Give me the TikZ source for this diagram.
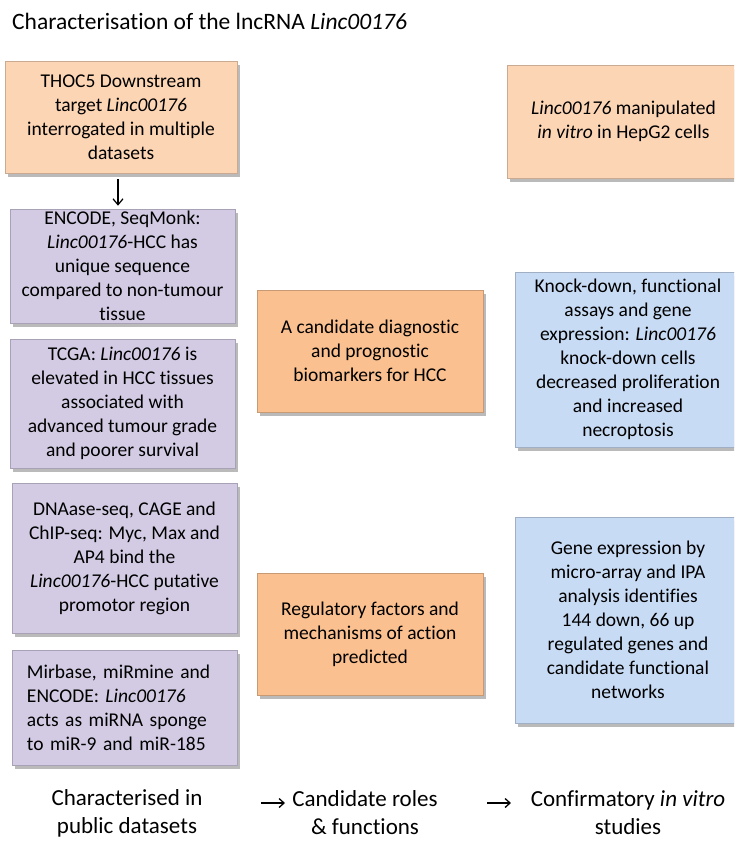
\documentclass[tikz,border=0pt]{standalone}
\usepackage{fontspec}
\setmainfont[Ligatures=NoCommon]{Carlito}
\usetikzlibrary{shadows,arrows.meta}
\definecolor{orlight}{HTML}{FCD5B5}
\definecolor{ormid}{HTML}{FAC090}
\definecolor{purp}{HTML}{D3CBE3}
\definecolor{blu}{HTML}{C8DBF4}
\tikzset{
  box/.style={draw=#1!80!black, line width=0.6pt, fill=#1, align=center,
    inner sep=0pt, font=\fontsize{19.5}{24}\selectfont,
    drop shadow={shadow xshift=2.5pt, shadow yshift=-3.5pt, opacity=0.45, fill=black!60}},
  boxA/.style={box=orlight},
  boxM/.style={box=ormid},
  boxP/.style={box=purp},
  boxB/.style={box=blu},
  foot/.style={align=center, font=\fontsize{23}{28}\selectfont, inner sep=0pt},
  arr/.style={-{Straight Barb[length=6pt,width=10pt]}, line width=1.2pt},
  farr/.style={-{Straight Barb[length=5pt,width=9pt]}, line width=1.3pt},
}
\begin{document}
\begin{tikzpicture}[x=1pt,y=-1pt]
\useasboundingbox (0,0) rectangle (734,841);
\clip (0,0) rectangle (734,841);
\fill[white] (0,0) rectangle (734,841);

\node[anchor=base west, font=\fontsize{23.5}{28}\selectfont, inner sep=0pt] (title) at (12,29)
  {Characterisation of the lncRNA \textit{Linc00176}};

% left column
\node[boxA, minimum width=232pt, minimum height=112pt] (A) at (121,117)
  {THOC5 Downstream\\ target \textit{Linc00176}\\ interrogated in multiple\\ datasets};
\node[boxP, minimum width=225pt, minimum height=114pt] (B) at (122.5,266)
  {ENCODE, SeqMonk:\\ \textit{Linc00176}-HCC has\\ unique sequence\\ compared to non-tumour\\ tissue};
\node[boxP, minimum width=225pt, minimum height=129pt] (C) at (122.5,403.5)
  {TCGA: \textit{Linc00176} is\\ elevated in HCC tissues\\ associated with\\ advanced tumour grade\\ and poorer survival};
\node[boxP, minimum width=225pt, minimum height=150pt] (D) at (124.5,558)
  {DNAase-seq, CAGE and\\ ChIP-seq: Myc, Max and\\ AP4 bind the\\ \textit{Linc00176}-HCC putative\\ promotor region};
\node[boxP, minimum width=225pt, minimum height=115pt, align=left, text width=195pt] (E) at (124.5,707.5)
  {Mirbase, miRmine and\\ ENCODE: \textit{Linc00176}\\ acts as miRNA sponge\\ to miR-9 and miR-185};

% middle column
\node[boxM, minimum width=226pt, minimum height=122pt] (M1) at (370,351)
  {A candidate diagnostic\\ and prognostic\\ biomarkers for HCC};
\node[boxM, minimum width=226pt, minimum height=122pt] (M2) at (370,634)
  {Regulatory factors and\\ mechanisms of action\\ predicted};

% right column
\node[boxA, minimum width=233pt, minimum height=113pt] (R1) at (623.5,121.5)
  {\textit{Linc00176} manipulated\\ \textit{in vitro} in HepG2 cells};
\node[boxB, minimum width=226pt, minimum height=175pt] (R2) at (628,359.5)
  {Knock-down, functional\\ assays and gene\\ expression: \textit{Linc00176}\\ knock-down cells\\ decreased proliferation\\ and increased\\ necroptosis};
\node[boxB, minimum width=226pt, minimum height=206pt] (R3) at (628,620)
  {Gene expression by\\ micro-array and IPA\\ analysis identifies\\ 144 down, 66 up\\ regulated genes and\\ candidate functional\\ networks};

\draw[arr] ([xshift=-3pt,yshift=-6pt]A.south) -- ([xshift=-4.5pt,yshift=3pt]B.north);

% footer
\node[foot] (L1) at (127,813) {Characterised in\\ public datasets};
\node[foot] (L2) at (365,813) {Candidate roles\\ \& functions};
\node[foot] (L3) at (628,813) {Confirmatory \textit{in vitro}\\ studies};
\coordinate (a1s) at (261,803);
\coordinate (a1e) at (285,803);
\coordinate (a2s) at (487,803);
\coordinate (a2e) at (511,803);
\draw[farr] (a1s) -- (a1e);
\draw[farr] (a2s) -- (a2e);
\end{tikzpicture}
\end{document}
